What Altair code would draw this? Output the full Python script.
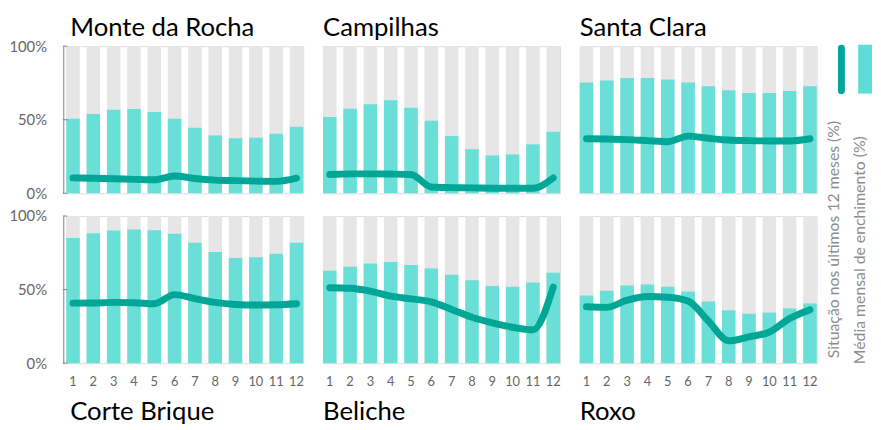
import altair as alt
import pandas as pd

MONTHS = list(range(1, 13))
FULL = 100
Y_TICKS = [0, 50, 100]

NAMES = ["Monte da Rocha", "Campilhas", "Santa Clara", "Corte Brique", "Beliche", "Roxo"]

MONTE_AVG = [50.6, 53.9, 56.8, 57.3, 55.3, 50.6, 44.5, 39.4, 37.4, 37.8, 40.5, 45.2]
MONTE_12M = [10.5, 10.2, 9.9, 9.5, 9.2, 11.8, 10.1, 9.0, 8.6, 8.3, 8.1, 10.3]
CAMP_AVG = [51.9, 57.5, 60.6, 63.3, 58.2, 49.4, 38.9, 30.0, 25.7, 26.4, 33.3, 41.8]
CAMP_12M = [12.8, 13.2, 13.2, 13.1, 12.8, 4.3, 3.9, 3.7, 3.5, 3.4, 3.4, 10.5]
SANTA_AVG = [75.4, 76.7, 78.3, 78.3, 77.4, 75.4, 72.7, 70.0, 68.2, 68.2, 69.6, 72.7]
SANTA_12M = [37.1, 36.9, 36.5, 35.8, 35.1, 38.9, 37.4, 36.2, 35.8, 35.6, 35.6, 37.1]
CORTE_AVG = [85.0, 88.3, 90.1, 90.8, 90.4, 87.9, 81.8, 75.6, 71.5, 72.0, 74.4, 81.8]
CORTE_12M = [40.8, 40.9, 41.3, 41.1, 40.4, 46.6, 43.9, 41.3, 39.9, 39.5, 39.7, 40.4]
BELICHE_AVG = [62.8, 65.5, 67.7, 68.8, 66.8, 64.3, 60.1, 56.3, 52.5, 52.0, 54.9, 61.4]
BELICHE_12M = [51.3, 50.9, 48.9, 45.5, 43.7, 41.7, 36.5, 31.2, 27.4, 24.4, 22.6, 51.8]
ROXO_AVG = [46.0, 49.3, 52.7, 53.4, 52.0, 48.7, 41.9, 35.9, 33.6, 34.3, 37.2, 40.6]
ROXO_12M = [38.3, 37.9, 42.8, 45.3, 44.8, 42.2, 28.7, 15.2, 17.9, 21.1, 30.3, 36.3]

LEGEND_LABELS = ["Situação nos últimos 12 meses (%)", "Média mensal de enchimento (%)"]

GRAY = "#E6E6E6"
CYAN = "#69DFD8"
TEAL = "#00A696"
AXIS_GRAY = "#7f7f7f"
LABEL_GRAY = "#666666"
LEGEND_GRAY = "#8c8c8c"
FONT = "Lato"

PW, PH = 240, 149


def legend_layers():
    leg_df = pd.DataFrame({"serie": LEGEND_LABELS})
    swatch_line = alt.Chart(leg_df.iloc[[0]]).mark_rule(
        color=TEAL, strokeWidth=7, strokeCap="round").encode(
        x=alt.value(PW + 25), y=alt.value(2), y2=alt.value(45))
    swatch_rect = alt.Chart(leg_df.iloc[[1]]).mark_rect(color="#5EDDD6").encode(
        x=alt.value(PW + 42), x2=alt.value(PW + 56), y=alt.value(-1.5), y2=alt.value(48))
    t1 = alt.Chart(leg_df.iloc[[0]]).mark_text(
        angle=270, align="left", baseline="middle", fontSize=16, font=FONT,
        color=LEGEND_GRAY).encode(x=alt.value(PW + 18), y=alt.value(316), text="serie:N")
    t2 = alt.Chart(leg_df.iloc[[1]]).mark_text(
        angle=270, align="left", baseline="middle", fontSize=16, font=FONT,
        color=LEGEND_GRAY).encode(x=alt.value(PW + 44), y=alt.value(322), text="serie:N")
    return [swatch_line, swatch_rect, t1, t2]


def panel(name, avg, last, col, row):
    df = pd.DataFrame({"mes": MONTHS, "media": avg, "ultimos": last, "total": [FULL] * 12})
    if row == 1:
        xaxis = alt.Axis(title=None, labelAngle=0, ticks=False, tickSize=0, domain=False,
                         labelPadding=13, labelFontSize=13, labelColor=LABEL_GRAY, labelFont=FONT)
    else:
        xaxis = None
    if col == 0:
        yaxis = alt.Axis(title=None, values=Y_TICKS, labelExpr="datum.value + '%'", grid=False,
                         ticks=False, tickSize=0, domainColor=AXIS_GRAY, offset=3,
                         labelPadding=17, labelFontSize=15, labelColor=LABEL_GRAY, labelFont=FONT)
    else:
        yaxis = None
    yscale = alt.Scale(domain=[0, 100])
    x = alt.X("mes:O", scale=alt.Scale(paddingInner=0.335, paddingOuter=0), axis=xaxis)
    base = alt.Chart(df).encode(x=x)
    bg = base.mark_bar(color=GRAY).encode(y=alt.Y("total:Q", scale=yscale, axis=yaxis))
    bars = base.mark_bar(color=CYAN).encode(y=alt.Y("media:Q", scale=yscale, axis=yaxis))
    line = base.mark_line(color=TEAL, strokeWidth=7, strokeCap="round", strokeJoin="round",
                          interpolate="monotone").encode(y=alt.Y("ultimos:Q", scale=yscale, axis=yaxis))
    layers = [bg, bars, line]
    if col == 0:
        ticks = alt.Chart(pd.DataFrame({"v": Y_TICKS})).mark_rule(color=AXIS_GRAY).encode(
            y=alt.Y("v:Q", scale=yscale, axis=yaxis), x=alt.value(-3.5), x2=alt.value(1))
        layers.append(ticks)
    title = alt.Chart(pd.DataFrame({"nome": [name]})).mark_text(
        align="left", baseline="alphabetic", fontSize=26, font=FONT, color="#000000").encode(
        x=alt.value(4 if col == 0 else 0),
        y=alt.value(-10 if row == 0 else PH + 58),
        text="nome:N")
    layers.append(title)
    if row == 0 and col == 2:
        layers.extend(legend_layers())
    return alt.layer(*layers).properties(width=PW, height=PH)


panels = [
    panel(NAMES[0], MONTE_AVG, MONTE_12M, 0, 0),
    panel(NAMES[1], CAMP_AVG, CAMP_12M, 1, 0),
    panel(NAMES[2], SANTA_AVG, SANTA_12M, 2, 0),
    panel(NAMES[3], CORTE_AVG, CORTE_12M, 0, 1),
    panel(NAMES[4], BELICHE_AVG, BELICHE_12M, 1, 1),
    panel(NAMES[5], ROXO_AVG, ROXO_12M, 2, 1),
]
chart = alt.concat(*panels, columns=3, spacing={"row": 23, "column": 20}, bounds="flush").properties(
    padding={"left": 0, "top": 4, "right": 0, "bottom": 0}
).configure_view(stroke=None).configure(font=FONT)

chart.save("out.html", embed_options={"renderer": "svg", "actions": False})
